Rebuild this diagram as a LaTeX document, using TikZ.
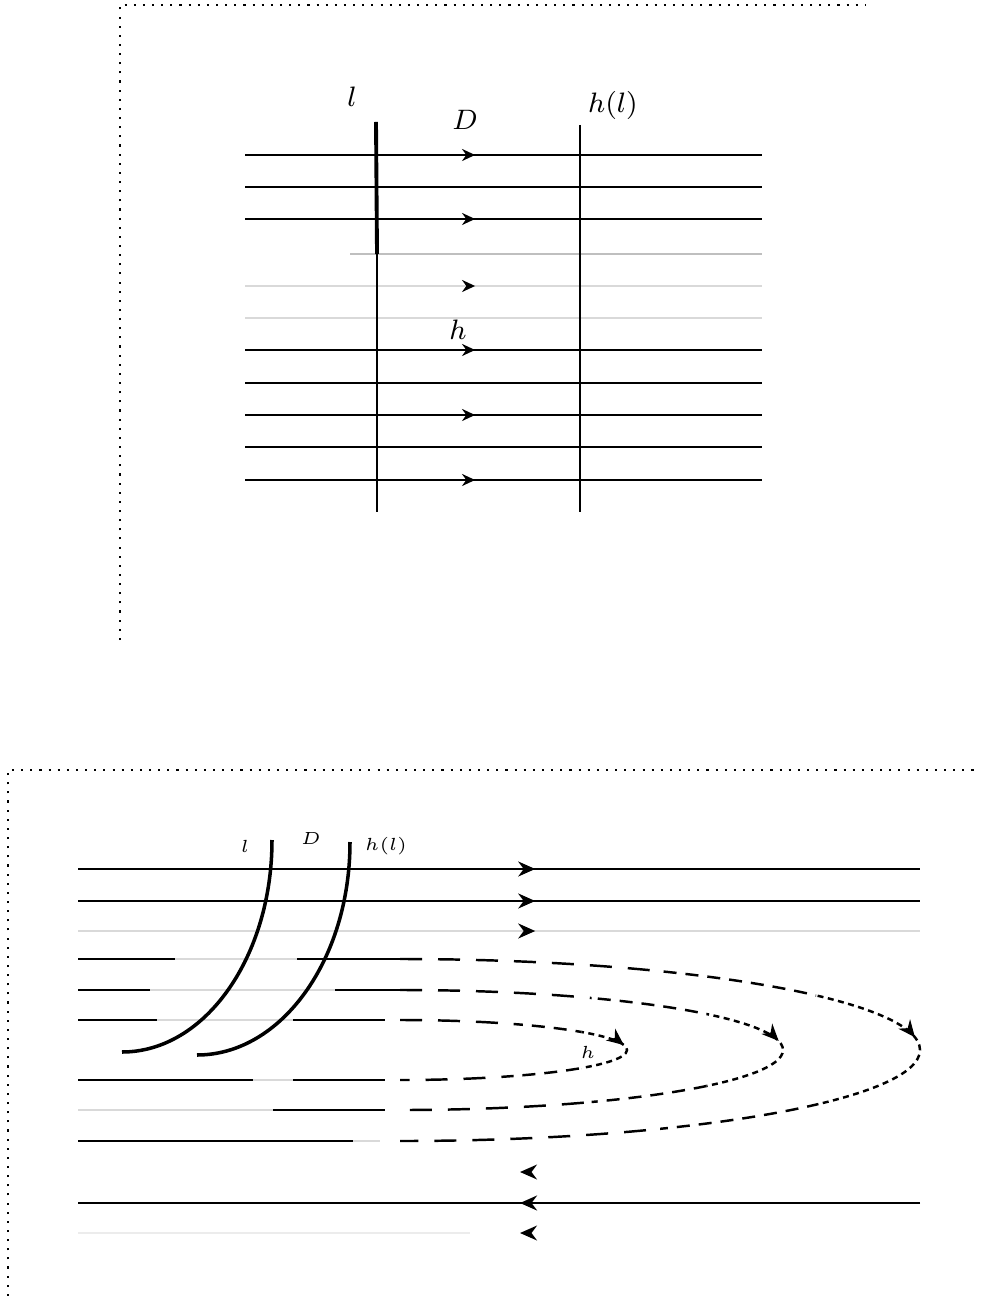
\documentclass[tikz,border=0pt]{standalone}
\usepackage{tikz}
\usetikzlibrary{arrows.meta,decorations.markings}
\newcommand{\hairpath}{(400,1050-\b) .. controls (\ka,1050-\b) and (400+\a,1050-\kb) .. (400+\a,1050)
    .. controls (400+\a,1050+\kb) and (\ka,1050+\b) .. (400,1050+\b)}

\begin{document}
\begin{tikzpicture}[x=0.1mm,y=-0.1mm,>=Stealth,
 frame/.style={dotted,line width=0.6pt},
 leaf/.style={line width=0.7pt},
 faint/.style={line width=0.7pt,gray!30},
 cut/.style={line width=1pt},
 lbl/.style={inner sep=1pt,font=\footnotesize},
 sm/.style={inner sep=0.5pt,font=\fontsize{4}{5}\selectfont},
 toparrow/.style={postaction={decorate,decoration={markings,mark=at position #1 with {\arrow{Stealth[length=1.3mm,width=1.2mm,color=black]}}}}},
 midarrow/.style={postaction={decorate,decoration={markings,mark=at position #1 with {\arrow{Stealth[length=1.7mm,width=1.5mm,color=black]}}}}}]
 \useasboundingbox (0,0) rectangle (984,1296);

 % upper picture: product foliation
 \draw[frame] (120,640) -- (120,5) -- (865,5);
 \foreach \y in {155,219,350,415,480} \draw[leaf,toparrow=0.445] (245,\y) -- (762,\y);
 \foreach \y in {187,383,447} \draw[leaf] (245,\y) -- (762,\y);
 \draw[leaf,gray!50] (350,254) -- (762,254);
 \draw[faint,toparrow=0.445] (245,286) -- (762,286);
 \draw[faint] (245,318) -- (762,318);
 \draw[leaf,line width=1.1pt] (376,122) -- (377,254);
 \draw[leaf] (377,254) -- (377,512);
 \draw[leaf] (580,125) -- (580,512);
 \node[lbl] (l1) at (352,97) {$l$};
 \node[lbl] (D1) at (465,120) {$D$};
 \node[lbl] (hl1) at (613,105) {$h(l)$};
 \node[lbl] (h1) at (458,330) {$h$};

 % lower picture: Reeb components
 \draw[frame] (8,1296) -- (8,770) -- (980,770);
 \foreach \y in {869,901} \draw[leaf,midarrow=0.543] (78,\y) -- (920,\y);
 \draw[faint,midarrow=0.543] (78,931) -- (920,931);
 \path[midarrow=0.475] (920,1172) -- (78,1172);
 \draw[leaf,midarrow=0.475] (920,1203) -- (78,1203);
 \draw[faint,gray!15] (470,1233) -- (78,1233);
 \path[midarrow=0.475] (920,1233) -- (78,1233);
 \foreach \y/\p/\q/\r in {959/175/297/400,990/150/335/400,1020/157/293/385,
   1080/253/293/385,1110/78/273/385,1141/353/380/380}{
  \draw[leaf] (78,\y) -- (\p,\y);
  \draw[faint] (\p,\y) -- (\q,\y);
  \draw[leaf] (\q,\y) -- (\r,\y);
 }
 \foreach \a/\b in {227/30,383/60,520/91}{
  \pgfmathsetmacro\ka{400+0.5523*\a}
  \pgfmathsetmacro\kb{0.5523*\b}
  % dashes shrink towards the tip
  \foreach \u/\v/\dn/\dg in {0/0.5/2.2/1.6,0.5/0.8/1.3/0.9,0.8/1.1/0.6/0.45}{
   \begin{scope}
    \clip (400+\u*\a,900) rectangle (400+\v*\a,1200);
    \draw[leaf,dash pattern=on \dn mm off \dg mm] \hairpath;
   \end{scope}
  }
  \path[midarrow=0.487] \hairpath;
 }
 \draw[cut] (272,840) .. controls (272,957) and (205,1052) .. (122,1052);
 \draw[cut] (350,842) .. controls (350,960) and (281,1055) .. (197,1055);
 \node[sm] (l2) at (245,846) {$l$};
 \node[sm] (D2) at (311,838) {$D$};
 \node[sm] (hl2) at (386,846) {$h(l)$};
 \node[sm] (h2) at (588,1052) {$h$};
\end{tikzpicture}
\end{document}
